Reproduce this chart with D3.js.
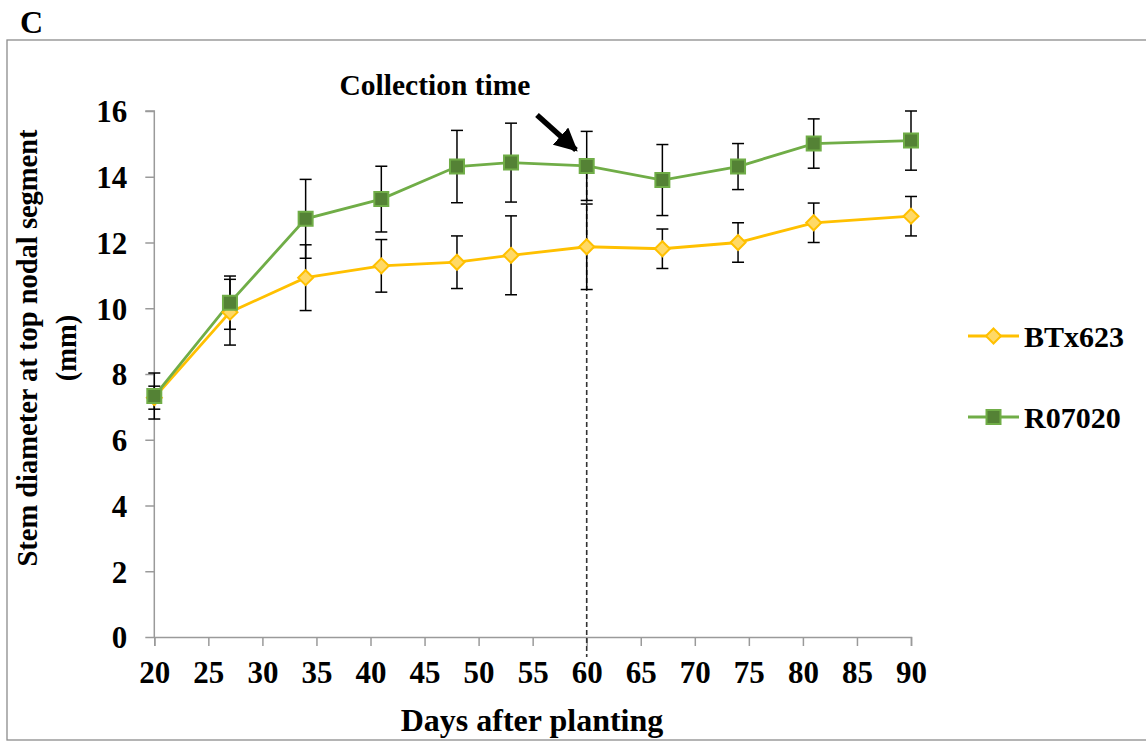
<!DOCTYPE html>
<html><head><meta charset="utf-8">
<script src="https://cdn.jsdelivr.net/npm/d3@7"></script>
<style>
body{margin:0;background:#fff;}
text{font-family:"Liberation Serif","Times New Roman",serif;font-weight:bold;fill:#000;}
</style></head>
<body>
<svg id="chart" width="1146" height="741"></svg>
<script>
const days = [20, 27, 34, 41, 48, 53, 60, 67, 74, 81, 90];
const btx623 = [7.28, 9.88, 10.93, 11.29, 11.40, 11.61, 11.87, 11.81, 12.00, 12.60, 12.80];
const btx623Err = [0.35, 1.0, 1.0, 0.8, 0.8, 1.2, 1.3, 0.6, 0.6, 0.6, 0.6];
const r07020 = [7.33, 10.17, 12.72, 13.32, 14.31, 14.43, 14.33, 13.90, 14.31, 15.01, 15.10];
const r07020Err = [0.7, 0.81, 1.2, 1.0, 1.1, 1.2, 1.05, 1.08, 0.7, 0.75, 0.9];
const xTicks = [20, 25, 30, 35, 40, 45, 50, 55, 60, 65, 70, 75, 80, 85, 90];
const yTicks = [0, 2, 4, 6, 8, 10, 12, 14, 16];
const seriesNames = ["BTx623", "R07020"];
const collectionDay = 60;

const svg = d3.select("#chart");
const x = d3.scaleLinear().domain([20, 90]).range([154.3, 911]);
const y = d3.scaleLinear().domain([0, 16]).range([637, 111]);

// frame
svg.append("rect").attr("x", 7).attr("y", 40).attr("width", 1150).attr("height", 700)
  .attr("fill", "none").attr("stroke", "#8c8c8c").attr("stroke-width", 1.3);
svg.append("text").attr("x", 20).attr("y", 33).attr("font-size", 32).text("C");

// axes
const axisColor = "#9a9a9a";
const yAxis = svg.append("g").attr("transform", `translate(${x(20)},0)`)
  .call(d3.axisLeft(y).tickValues(yTicks).tickSize(9).tickPadding(18).tickFormat(d3.format("d")));
const xAxis = svg.append("g").attr("transform", `translate(0,${y(0)})`)
  .call(d3.axisBottom(x).tickValues(xTicks).tickSize(9).tickPadding(15).tickFormat(d3.format("d")));
[yAxis, xAxis].forEach(g => {
  g.select(".domain").attr("stroke", axisColor).attr("stroke-width", 1.5);
  g.selectAll(".tick line").attr("stroke", axisColor).attr("stroke-width", 1.5);
  g.selectAll("text").attr("font-size", 31).attr("font-family", "Liberation Serif").attr("font-weight", "bold").attr("fill", "#000");
});
yAxis.select(".domain").attr("d", `M0,${y(0)}V${y(16)}H-9`);
yAxis.selectAll(".tick line").attr("x2", -9);
yAxis.selectAll(".tick text").attr("dy", "0.35em");

// axis titles
svg.append("text").attr("x", 532).attr("y", 731).attr("text-anchor", "middle").attr("font-size", 32)
  .text("Days after planting");
const yt = svg.append("text").attr("transform", "translate(27,348) rotate(-90)").attr("text-anchor", "middle").attr("font-size", 28.5);
yt.append("tspan").attr("x", 0).attr("dy", "0.35em").text("Stem diameter at top nodal segment");
yt.append("tspan").attr("x", 0).attr("dy", "1.38em").text("(mm)");

// collection time dashed line
svg.append("line").attr("x1", x(collectionDay)).attr("x2", x(collectionDay))
  .attr("y1", y(r07020[days.indexOf(collectionDay)])).attr("y2", 657)
  .attr("stroke", "#333").attr("stroke-width", 1.6).attr("stroke-dasharray", "5,3");

// annotation
svg.append("text").attr("x", 435).attr("y", 95).attr("text-anchor", "middle").attr("font-size", 29.5).text("Collection time");
svg.append("defs").append("marker").attr("id", "ah").attr("viewBox", "0 0 10 10").attr("refX", 9).attr("refY", 5)
  .attr("markerWidth", 4.2).attr("markerHeight", 4.2).attr("markerUnits", "strokeWidth").attr("orient", "auto")
  .append("path").attr("d", "M0,0L10,5L0,10Z").attr("fill", "#000");
svg.append("line").attr("x1", 537).attr("y1", 115).attr("x2", 576).attr("y2", 150)
  .attr("stroke", "#000").attr("stroke-width", 5.5).attr("marker-end", "url(#ah)");

const series = [
  {name: seriesNames[0], vals: btx623, err: btx623Err, line: "#FFC000", fill: "#FFD966", stroke: "#FFC000", shape: "diamond"},
  {name: seriesNames[1], vals: r07020, err: r07020Err, line: "#70AD47", fill: "#548235", stroke: "#70AD47", shape: "square"}
];

// error bars
series.forEach(s => {
  const g = svg.append("g");
  days.forEach((d, i) => {
    const lo = y(s.vals[i] - s.err[i]), hi = y(s.vals[i] + s.err[i]), cx = x(d);
    g.append("line").attr("x1", cx).attr("x2", cx).attr("y1", lo).attr("y2", hi).attr("stroke", "#000").attr("stroke-width", 1.5);
    [lo, hi].forEach(yy => g.append("line").attr("x1", cx - 6).attr("x2", cx + 6).attr("y1", yy).attr("y2", yy).attr("stroke", "#000").attr("stroke-width", 1.5));
  });
});

const line = d3.line().x((d, i) => x(days[i])).y(d => y(d));
const diamond = "M0,-7.5L7.5,0L0,7.5L-7.5,0Z";
const square = "M-7,-7H7V7H-7Z";
series.forEach(s => {
  svg.append("path").datum(s.vals).attr("d", line).attr("fill", "none").attr("stroke", s.line).attr("stroke-width", 2.8);
});
series.forEach(s => {
  svg.append("g").selectAll("path").data(s.vals).join("path")
    .attr("transform", (d, i) => `translate(${x(days[i])},${y(d)})`)
    .attr("d", s.shape === "diamond" ? diamond : square)
    .attr("fill", s.fill).attr("stroke", s.stroke).attr("stroke-width", 2);
});

// legend
const legY = [336, 417];
series.forEach((s, i) => {
  const g = svg.append("g").attr("transform", `translate(968,${legY[i]})`);
  g.append("line").attr("x1", 0).attr("x2", 51).attr("stroke", s.line).attr("stroke-width", 2.8);
  g.append("path").attr("transform", "translate(25.5,0)").attr("d", s.shape === "diamond" ? diamond : square)
    .attr("fill", s.fill).attr("stroke", s.stroke).attr("stroke-width", 2);
  g.append("text").attr("x", 56).attr("y", 0).attr("dy", "0.35em").attr("font-size", 30).text(s.name);
});
</script>
</body></html>
